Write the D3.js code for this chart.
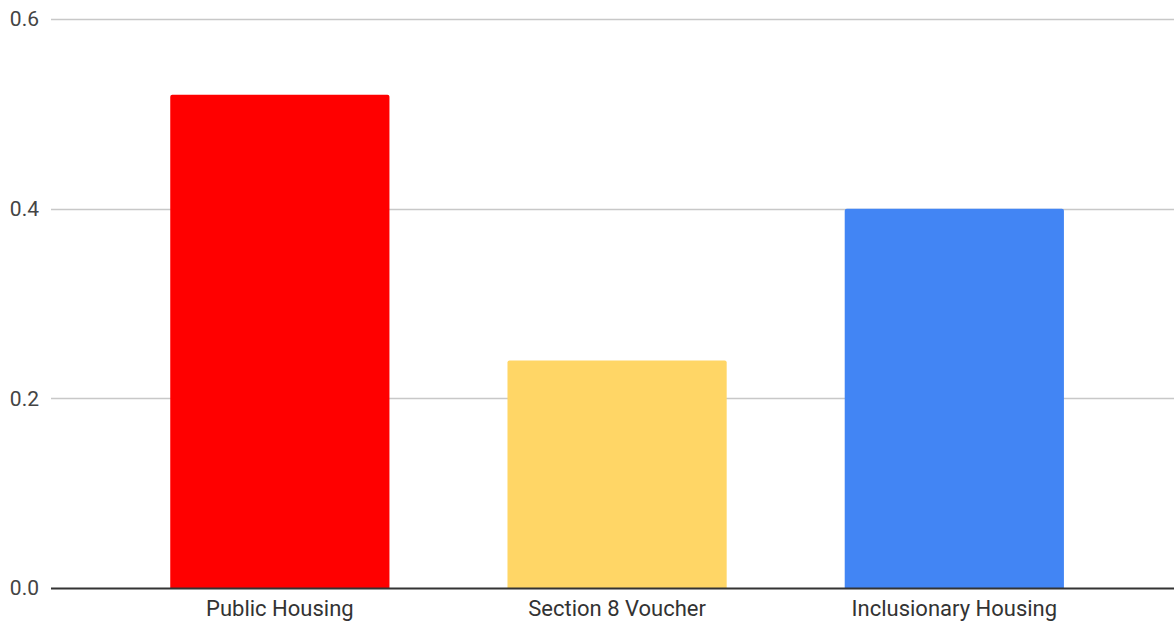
<!DOCTYPE html>
<html>
<head>
<meta charset="utf-8">
<script src="https://cdn.jsdelivr.net/npm/d3@7"></script>
<style>
  html, body { margin: 0; padding: 0; background: #fff; }
  svg { display: block; }
  text { font-family: Roboto, "Liberation Sans", Arial, sans-serif; fill: #333; }
</style>
</head>
<body>
<svg id="chart" width="1174" height="622"></svg>
<script>
// Housing programs and their values
const categories = ["Public Housing", "Section 8 Voucher", "Inclusionary Housing"];
const values = [0.52, 0.24, 0.40];
const barColors = ["#ff0000", "#ffd666", "#4285f4"];
const yTicks = [0, 0.2, 0.4, 0.6];

const width = 1174, height = 622;
const margin = { top: 19, right: 0, bottom: 34, left: 51 };

const svg = d3.select("#chart");

const x = d3.scaleBand()
  .domain(categories)
  .range([margin.left, width - margin.right])
  .paddingInner(0.35)
  .paddingOuter(0.34)
  .align(0.52);

const y = d3.scaleLinear()
  .domain([0, 0.6])
  .range([height - margin.bottom, margin.top]);

// Horizontal gridlines
svg.append("g")
  .selectAll("line")
  .data(yTicks.filter(d => d > 0))
  .join("line")
  .attr("x1", margin.left)
  .attr("x2", width - margin.right)
  .attr("y1", d => Math.round(y(d)) + 0.5)
  .attr("y2", d => Math.round(y(d)) + 0.5)
  .attr("stroke", "#c8c8c8")
  .attr("stroke-width", 1.5);

// Y-axis tick labels
const yAxis = d3.axisLeft(y)
  .tickValues(yTicks)
  .tickFormat(d3.format(".1f"))
  .tickSize(0)
  .tickPadding(12);

svg.append("g")
  .attr("transform", `translate(${margin.left},0)`)
  .call(yAxis)
  .call(g => g.select(".domain").remove())
  .call(g => g.selectAll("text")
    .attr("font-size", 21)
    .attr("font-family", null)
    .style("fill", "#444"));

// Bars with slightly rounded tops
svg.append("g")
  .selectAll("path")
  .data(categories.map((c, i) => ({ c, v: values[i], color: barColors[i] })))
  .join("path")
  .attr("fill", d => d.color)
  .attr("d", d => {
    const x0 = x(d.c), x1 = x0 + x.bandwidth();
    const y0 = y(0), y1 = y(d.v);
    const r = 2;
    return `M${x0},${y0}V${y1 + r}Q${x0},${y1} ${x0 + r},${y1}H${x1 - r}Q${x1},${y1} ${x1},${y1 + r}V${y0}Z`;
  });

// Baseline and category labels
const xAxis = d3.axisBottom(x).tickSize(0).tickPadding(12);

svg.append("g")
  .attr("transform", `translate(0,${y(0)})`)
  .call(xAxis)
  .call(g => g.select(".domain")
    .attr("d", `M${margin.left},0.5H${width - margin.right}`)
    .attr("stroke", "#333")
    .attr("stroke-width", 2))
  .call(g => g.selectAll("text")
    .attr("font-size", 22)
    .attr("font-family", null)
    .style("fill", "#333"));
</script>
</body>
</html>
